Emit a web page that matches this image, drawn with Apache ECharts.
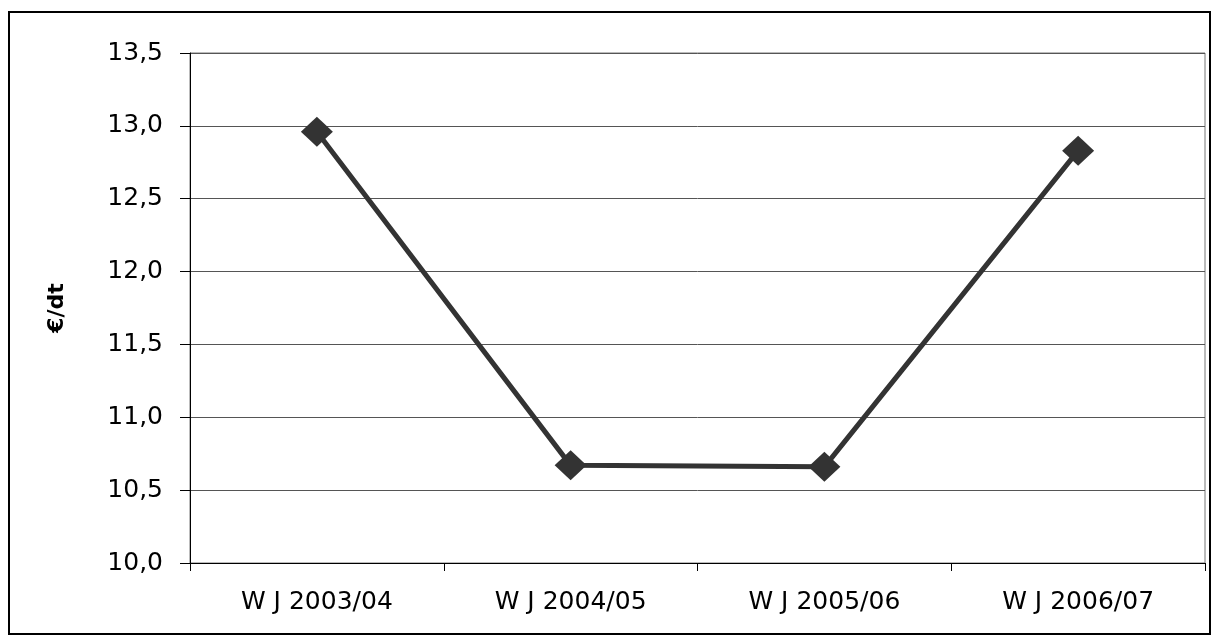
<!DOCTYPE html>
<html><head><meta charset="utf-8">
<script src="https://cdn.jsdelivr.net/npm/echarts@6/dist/echarts.min.js"></script>
<style>html,body{margin:0;padding:0;background:#fff}#c{width:1216px;height:639px}
#frame{position:absolute;left:8px;top:11px;width:1203px;height:624px;border:2px solid #000;pointer-events:none;box-sizing:border-box}</style>
</head><body><div id="c"></div><div id="frame"></div>
<script>
const categories = ['WJ 2003/04', 'WJ 2004/05', 'WJ 2005/06', 'WJ 2006/07'];
const values = [12.96, 10.67, 10.66, 12.83];
const yTicks = [10.0, 10.5, 11.0, 11.5, 12.0, 12.5, 13.0, 13.5];
const yTitle = '€/dt';

const FF = '"DejaVu Sans"';
const chart = echarts.init(document.getElementById('c'));
chart.setOption({
  animation: false,
  grid: {left: 190, top: 53, right: 11, bottom: 76, containLabel: false,
    show: true, borderColor: '#777', borderWidth: 1, backgroundColor: 'transparent'},
  xAxis: {
    type: 'category', data: categories, boundaryGap: true,
    axisLine: {lineStyle: {color: '#000', width: 1}},
    axisTick: {show: true, length: 8, lineStyle: {color: '#000'}},
    axisLabel: {fontFamily: FF, fontSize: 25, color: '#000', margin: 27,
      formatter: v => v.replace('WJ', 'W J')},
    splitLine: {show: false}
  },
  yAxis: {
    type: 'value', min: 10, max: 13.5, interval: 0.5,
    name: yTitle, nameLocation: 'middle', nameGap: 122, nameRotate: 90,
    nameTextStyle: {fontFamily: FF, fontSize: 22, fontWeight: 'bold', color: '#000'},
    axisLine: {show: true, lineStyle: {color: '#000', width: 1}},
    axisTick: {show: true, length: 10, inside: false, lineStyle: {color: '#000'}},
    axisLabel: {fontFamily: FF, fontSize: 25, color: '#000', margin: 27,
      formatter: v => yTicks.includes(v) ? v.toFixed(1).replace('.', ',') : ''},
    splitLine: {show: true, lineStyle: {color: '#555', width: 1}}
  },
  series: [{
    type: 'line', data: values,
    symbol: 'diamond', symbolSize: [32, 30],
    lineStyle: {color: '#333', width: 5},
    itemStyle: {color: '#333'}
  }]
});
</script></body></html>
